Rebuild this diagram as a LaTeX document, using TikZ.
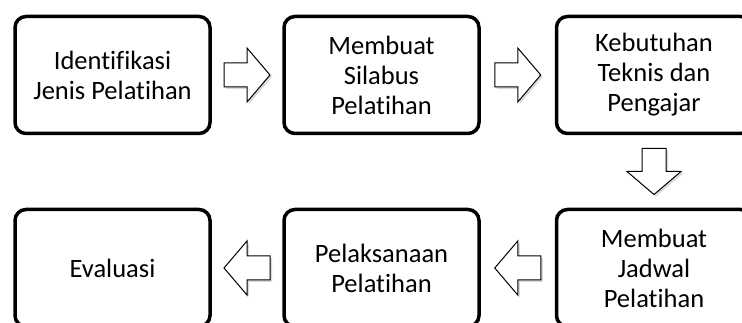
\documentclass[tikz,border=0pt]{standalone}
\usepackage{fontspec}
\setmainfont{Carlito}[Ligatures=NoCommon]
\usetikzlibrary{positioning,calc,shadows}

\begin{document}
\begin{tikzpicture}[
  x=1pt, y=-1pt,
  font=\fontsize{26.5}{30}\selectfont,
  stage/.style={draw=black, fill=white, line width=3.5pt, rounded corners=11pt,
    align=center, inner sep=0pt, minimum width=195pt, minimum height=117pt,
    drop shadow={opacity=0.15, shadow xshift=1.5pt, shadow yshift=-1.5pt}},
  flow/.pic={
    \draw[line width=1pt, fill=white, line join=miter,
      drop shadow={opacity=0.3, shadow xshift=2pt, shadow yshift=-2pt}]
      (-23,-12) -- (0,-12) -- (0,-27) -- (23,0) -- (0,27) -- (0,12)
      -- (-23,12) -- cycle;
  }
]
\clip (0,0) rectangle (742,323);

% top row
\node[stage] (idn) at (112.5,75) {Identifikasi\\Jenis Pelatihan};
\node[stage] (sil) at (381.5,75) {Membuat\\Silabus\\Pelatihan};
\node[stage] (keb) at (654,75) {Kebutuhan\\Teknis dan\\Pengajar};

% bottom row
\node[stage] (eva) at (112.5,268) {Evaluasi};
\node[stage] (pel) at (381.5,268) {Pelaksanaan\\Pelatihan};
\node[stage] (jad) at (654,268) {Membuat\\Jadwal\\Pelatihan};

% block arrows
\pic (f1) at ($(idn.east)!0.5!(sil.west)$) {flow};
\pic (f2) at ($(sil.east)!0.5!(keb.west)$) {flow};
\pic[rotate=-90] (f3) at ($(keb.south)!0.5!(jad.north)$) {flow};
\pic[rotate=180] (f4) at ($(jad.west)!0.5!(pel.east)$) {flow};
\pic[rotate=180] (f5) at ($(pel.west)!0.5!(eva.east)$) {flow};
\end{tikzpicture}
\end{document}
